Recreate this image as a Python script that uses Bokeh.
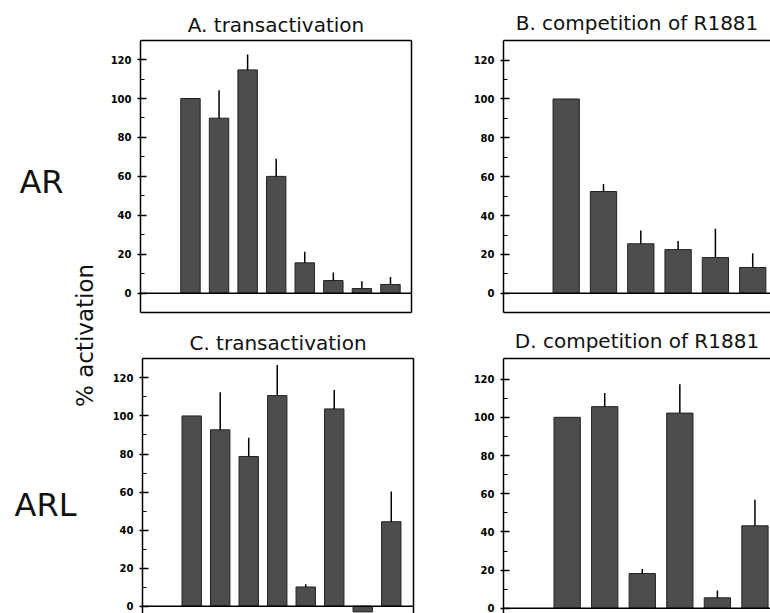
from bokeh.plotting import figure
from bokeh.models import (Range1d, LinearAxis, FixedTicker, Span, ColumnDataSource)
from bokeh.layouts import row, column
from bokeh.embed import file_html
from bokeh.resources import INLINE
from bokeh.core.properties import value
import math

# ---------------- data ----------------
lanes8 = [1, 2, 3, 4, 5, 6, 7, 8]
lanes6 = [1, 2, 3, 4, 5, 6]

a_values = [100, 89.9, 114.7, 60.0, 15.6, 6.5, 2.4, 4.5]
a_errors = [0, 14.3, 7.9, 9.1, 5.7, 4.2, 3.8, 3.8]

b_values = [100, 52.4, 25.5, 22.5, 18.4, 13.3]
b_errors = [0, 3.9, 6.8, 4.4, 14.8, 7.3]

c_values = [100, 92.7, 78.7, 110.7, 10.1, 103.7, -3.0, 44.4]
c_errors = [0, 19.8, 9.8, 16.1, 1.4, 10.0, 0, 15.9]

d_values = [100, 105.6, 18.2, 102.2, 5.5, 43.2]
d_errors = [0, 7.2, 2.4, 15.1, 3.8, 13.7]

y_ticks = [0, 20, 40, 60, 80, 100, 120]
y_minor = [10, 30, 50, 70, 90, 110]

titles = ["A. transactivation", "B. competition of R1881",
          "C. transactivation", "D. competition of R1881"]
row_labels = ["AR", "ARL"]
y_label = "% activation"

FONT = "DejaVu Sans"
BAR_FILL = "#4d4d4d"
BAR_LINE = "#222222"


def blank_axis():
    ax = LinearAxis(ticker=FixedTicker(ticks=[]), major_label_text_font_size="0px",
                    major_tick_in=0, major_tick_out=0, minor_tick_in=0, minor_tick_out=0,
                    axis_line_color="black", axis_line_width=1.5)
    return ax


def panel(title, lanes, vals, errs, width, height, xr, yr, bw,
          mb_left, mb_right, mb_top, mb_bottom, right_border, bottom_border,
          t_offset, t_standoff):
    p = figure(width=width, height=height, x_range=Range1d(*xr), y_range=Range1d(*yr),
               output_backend="svg", toolbar_location=None, tools="",
               min_border_left=mb_left, min_border_right=mb_right,
               min_border_top=mb_top, min_border_bottom=mb_bottom,
               x_axis_location=None, y_axis_location=None)
    p.outline_line_color = None
    p.grid.visible = False
    p.background_fill_color = "white"
    p.border_fill_color = "white"

    yax = LinearAxis(ticker=FixedTicker(ticks=y_ticks, minor_ticks=y_minor))
    yax.major_tick_in = 6
    yax.major_tick_out = 3
    yax.minor_tick_in = 4
    yax.minor_tick_out = 0
    yax.major_tick_line_width = 1.5
    yax.minor_tick_line_width = 1.2
    yax.axis_line_width = 1.5
    yax.major_label_standoff = 6
    yax.major_label_text_font = FONT
    yax.major_label_text_font_style = "bold"
    yax.major_label_text_font_size = "10px"
    yax.major_label_text_color = "black"
    p.add_layout(yax, "left")

    p.add_layout(blank_axis(), "above")
    if right_border:
        p.add_layout(blank_axis(), "right")
    if bottom_border:
        p.add_layout(blank_axis(), "below")

    p.title.text = title
    p.title.align = "center"
    p.title.text_font = FONT
    p.title.text_font_size = "20px"
    p.title.text_font_style = "normal"
    p.title.text_color = "#111111"
    p.title.standoff = t_standoff
    p.title.offset = t_offset

    upper = [v + e for v, e in zip(vals, errs)]
    src = ColumnDataSource(dict(x=lanes, top=vals, upper=upper))
    p.vbar(x="x", top="top", bottom=0, width=bw, source=src,
           fill_color=BAR_FILL, line_color=BAR_LINE, line_width=1)
    p.segment(x0="x", y0="top", x1="x", y1="upper", source=src,
              line_color="black", line_width=1.5)
    p.add_layout(Span(location=0, dimension="width", line_color="black", line_width=1.5))
    return p


pa = panel(titles[0], lanes8, a_values, a_errors, 370, 320,
           (-0.749, 8.736), (-9.9, 129.8), 0.68, 40, 59, 40, 8, True, True, -5, 8)
pb = panel(titles[1], lanes6, b_values, b_errors, 300, 320,
           (-0.681, 6.477), (-9.86, 130.1), 0.705, 33, 0, 38, 8, False, True, 0, 12)
pc = panel(titles[2], lanes8, c_values, c_errors, 370, 293,
           (-0.726, 8.78), (-3.84, 130.2), 0.68, 42, 57, 38, 0, True, False, -5, 8)
pd = panel(titles[3], lanes6, d_values, d_errors, 300, 293,
           (-0.695, 6.414), (-2.72, 130.8), 0.70, 33, 0, 33, 0, False, False, -3, 12)

# left label strip
pl = figure(width=100, height=613, x_range=Range1d(0, 100), y_range=Range1d(613, 0),
            output_backend="svg", toolbar_location=None, tools="",
            min_border=0, x_axis_location=None, y_axis_location=None)
pl.outline_line_color = None
pl.grid.visible = False
pl.text(x=[41, 45], y=[181, 504], text=row_labels, text_font=value(FONT),
        text_font_size="32px", text_align="center", text_baseline="middle",
        text_color="#111111")
pl.text(x=[84], y=[335], text=[y_label], angle=math.pi / 2, text_font=value(FONT),
        text_font_size="23px", text_align="center", text_baseline="middle",
        text_color="#111111")

layout = row(pl, column(row(pa, pb, spacing=0), row(pc, pd, spacing=0), spacing=0), spacing=0)

open("out.html", "w").write(file_html(layout, INLINE))
